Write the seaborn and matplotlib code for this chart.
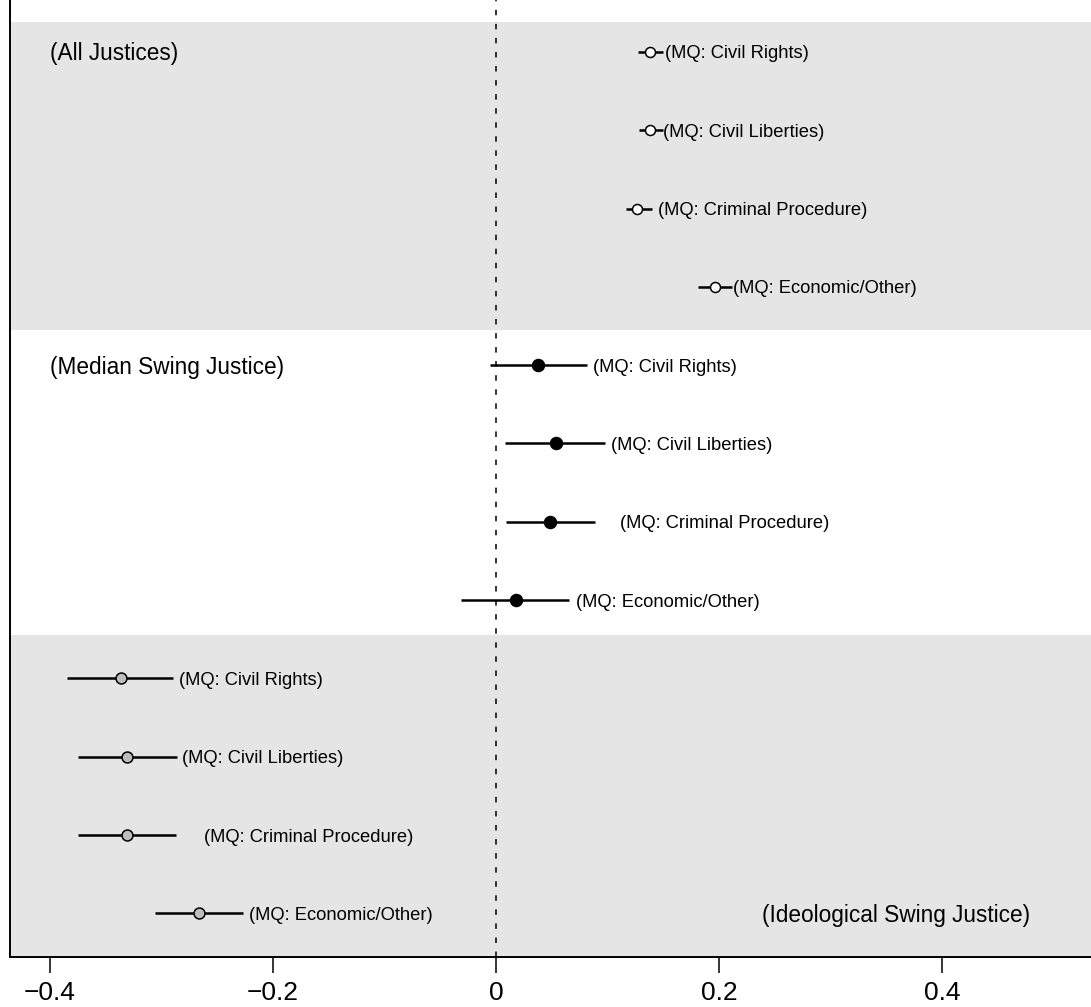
import numpy as np
import pandas as pd
import matplotlib
matplotlib.use("Agg")
import matplotlib.pyplot as plt
import seaborn as sns

# ---------------- data ----------------
groups = ["(All Justices)", "(Median Swing Justice)", "(Ideological Swing Justice)"]
issues = ["Civil Rights", "Civil Liberties", "Criminal Procedure", "Economic/Other"]

est_all = [0.138, 0.138, 0.126, 0.196]
lo_all = [0.127, 0.128, 0.117, 0.181]
hi_all = [0.150, 0.150, 0.140, 0.212]

est_median = [0.038, 0.054, 0.048, 0.018]
lo_median = [-0.005, 0.008, 0.009, -0.031]
hi_median = [0.082, 0.098, 0.089, 0.065]

est_ideo = [-0.336, -0.331, -0.331, -0.266]
lo_ideo = [-0.385, -0.375, -0.375, -0.306]
hi_ideo = [-0.290, -0.286, -0.287, -0.227]

xticks = [-0.4, -0.2, 0, 0.2, 0.4]
xticklabels = ["\u22120.4", "\u22120.2", "0", "0.2", "0.4"]

# ---------------- layout / style ----------------
label_pad_px = [[2, 0, 6, 1], [6, 6, 25, 7], [6, 5, 28, 6]]
marker_face = ["white", "black", "#BEBEBE"]
marker_size = [52, 74, 62]

sns.set_theme(style="white")
plt.rcParams['font.family'] = ['Liberation Sans', 'DejaVu Sans']

W, H, DPI = 1091, 1007, 100
fig = plt.figure(figsize=(W / DPI, H / DPI), dpi=DPI)
ax = fig.add_axes([10 / W, 50 / H, 1081 / W, 957 / H])

rows = []
for gi, (g, est, lo, hi) in enumerate(zip(groups,
                                         [est_all, est_median, est_ideo],
                                         [lo_all, lo_median, lo_ideo],
                                         [hi_all, hi_median, hi_ideo])):
    for ii, iss in enumerate(issues):
        rows.append(dict(group=g, gi=gi, issue=iss, ii=ii, est=est[ii], lo=lo[ii], hi=hi[ii],
                         row=gi * len(issues) + ii + 1))
df = pd.DataFrame(rows)

ylim = (12.558, 0.336)
xlim = (-0.4359, 0.5336)

# background bands
ax.axhspan(0.617, 4.55, color="#E5E5E5", zorder=0, lw=0)
ax.axhspan(8.446, ylim[0], color="#E5E5E5", zorder=0, lw=0)

# zero reference line
ax.axvline(0, color="black", lw=1.1, ls=(0, (3.6, 5.6)), zorder=1)

# confidence intervals
ax.hlines(df["row"], df["lo"], df["hi"], color="black", lw=1.8, zorder=2)

# point estimates
for gi, g in enumerate(groups):
    sub = df[df["gi"] == gi]
    sns.scatterplot(data=sub, x="est", y="row", ax=ax, color=marker_face[gi],
                    edgecolor="black", linewidth=1.1, s=marker_size[gi],
                    zorder=3, legend=False)

# issue labels
dy = -2 * 72 / DPI
for _, r in df.iterrows():
    pad = label_pad_px[r["gi"]][r["ii"]] * 72 / DPI
    ax.annotate(f"(MQ: {r['issue']})", xy=(r["hi"], r["row"]), xytext=(pad, dy),
                textcoords="offset points", ha="left", va="center", fontsize=13.2,
                color="black")

# group labels
for x, row, txt, ha in [(-0.4, 1, groups[0], "left"), (-0.4, 5, groups[1], "left"),
                        (0.359, 12, groups[2], "center")]:
    ax.annotate(txt, xy=(x, row), xytext=(0, dy), textcoords="offset points",
                ha=ha, va="center", fontsize=16.3, color="black")

ax.set_xlim(*xlim)
ax.set_ylim(*ylim)
ax.set_xlabel("")
ax.set_ylabel("")
ax.set_yticks([])
ax.set_xticks(xticks)
ax.set_xticklabels(xticklabels)
ax.tick_params(axis="x", bottom=True, length=11.5, width=1.1, pad=6,
               labelsize=19, colors="black")
for s in ["top", "right"]:
    ax.spines[s].set_visible(False)
for s in ["left", "bottom"]:
    ax.spines[s].set_color("black")
    ax.spines[s].set_linewidth(1.4)

fig.savefig("out.png", dpi=DPI)
